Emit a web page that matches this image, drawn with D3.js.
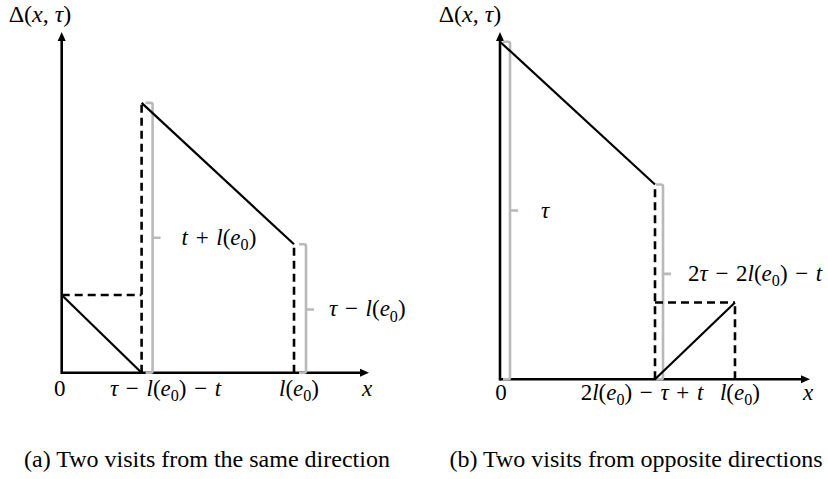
<!DOCTYPE html>
<html>
<head>
<meta charset="utf-8">
<script src="https://cdn.jsdelivr.net/npm/d3@7"></script>
<style>
  html, body { margin: 0; padding: 0; background: #fff; }
  svg { display: block; }
</style>
</head>
<body>
<svg id="chart" width="828" height="479"></svg>
<script>
// ---- Panel (a): two visits from the same direction ----
const aFirstVisit  = [[0, 22.8], [26, 0]];          // decreasing delay, first visit
const aSecondVisit = [[26, 79.2], [75.6, 37.7]];    // decreasing delay, second visit
const aDashed = [
  [[0, 22.8], [26, 22.8]],
  [[26, 0], [26, 79.2]],
  [[75.6, 0], [75.6, 37.7]]
];
const aBraces = [
  { x: 26, y0: 0, y1: 79.2, label: "t + l(e_0)" },
  { x: 75.6, y0: 0, y1: 37.7, label: "τ − l(e_0)" }
];
const aTickValues = [0, 26, 75.6, 100];
const aTickLabels = ["0", "τ − l(e_0) − t", "l(e_0)", "x"];

// ---- Panel (b): two visits from opposite directions ----
const bFirstVisit  = [[0, 97.2], [50, 56.1]];
const bSecondVisit = [[50, 0], [75.8, 22.1]];
const bDashed = [
  [[50, 0], [50, 56.1]],
  [[50, 22.1], [75.8, 22.1]],
  [[75.8, 0], [75.8, 22.1]]
];
const bBraces = [
  { x: 0, y0: 0, y1: 97.2, label: "τ" },
  { x: 50, y0: 0, y1: 56.1, label: "2τ − 2l(e_0) − t" }
];
const bTickValues = [0, 50, 75.8, 100];
const bTickLabels = ["0", "2l(e_0) − τ + t", "l(e_0)", "x"];

const yTitle = "Δ(x, τ)";
const captions = ["(a) Two visits from the same direction", "(b) Two visits from opposite directions"];

const svg = d3.select("#chart");
const MATH_FONT = "'Liberation Serif', 'Times New Roman', serif";
const GRAY = "#b9b9b9";

// Writes a small math string: letters italic, "_0" as subscript,
// spaces widened to the given character around operators.
function mathText(textSel, str, size, space) {
  textSel.attr("font-family", MATH_FONT).attr("font-size", size).attr("fill", "#000");
  if (space) str = str.replace(/ /g, space);
  const runs = [];
  for (let i = 0; i < str.length; i++) {
    const c = str[i];
    if (c === "_") { runs.push({ t: str[i + 1], sub: true, it: false }); i++; continue; }
    const it = /[a-zA-Zτ]/.test(c);
    const last = runs[runs.length - 1];
    if (last && !last.sub && last.it === it) last.t += c;
    else runs.push({ t: c, sub: false, it });
  }
  let shifted = 0;
  runs.forEach(r => {
    const ts = textSel.append("tspan").text(r.t)
      .attr("font-style", r.it ? "italic" : "normal");
    if (r.sub) {
      ts.attr("font-size", size * 0.7).attr("dy", size * 0.22);
      shifted = size * 0.22;
    } else if (shifted) {
      ts.attr("dy", -shifted);
      shifted = 0;
    }
  });
}

function drawPanel(cfg) {
  const g = svg.append("g");
  const sx = d3.scaleLinear().domain([0, 100]).range(cfg.xRange);
  const sy = d3.scaleLinear().domain([0, 100]).range(cfg.yRange);
  const line = d3.line().x(d => sx(d[0])).y(d => sy(d[1]));

  // axes with arrowheads
  const x0 = sx(0), y0 = sy(0), xEnd = sx(100), yEnd = sy(100);
  g.append("line").attr("x1", x0).attr("y1", y0).attr("x2", xEnd - 6).attr("y2", y0)
    .attr("stroke", "#000").attr("stroke-width", 2.6);
  g.append("line").attr("x1", x0).attr("y1", y0 + 1.3).attr("x2", x0).attr("y2", yEnd + 6)
    .attr("stroke", "#000").attr("stroke-width", 2.6);
  g.append("path").attr("d", `M${xEnd},${y0} L${xEnd - 9},${y0 - 4} L${xEnd - 9},${y0 + 4} Z`).attr("fill", "#000");
  g.append("path").attr("d", `M${x0},${yEnd} L${x0 - 4},${yEnd + 9} L${x0 + 4},${yEnd + 9} Z`).attr("fill", "#000");

  // gray braces
  cfg.braces.forEach((b, i) => {
    const bx = sx(b.x) + cfg.braceOffset[i];
    const top = sy(b.y1), bot = sy(b.y0), mid = (top + bot) / 2 + cfg.braceMidShift[i];
    g.append("path")
      .attr("d", `M${bx - 7},${top} L${bx - 2},${top} Q${bx},${top} ${bx},${top + 2} L${bx},${bot - 2} Q${bx},${bot} ${bx - 2},${bot} L${bx - 7},${bot} M${bx},${mid} L${bx + 8},${mid}`)
      .attr("fill", "none").attr("stroke", GRAY).attr("stroke-width", 2.6);
    const t = g.append("text").attr("x", bx + 8 + cfg.braceLabelGap[i]).attr("y", mid + 7);
    mathText(t, b.label, 23, "\u2004");
  });

  // dashed guides
  cfg.dashed.forEach(seg => {
    g.append("path").attr("d", line(seg)).attr("fill", "none")
      .attr("stroke", "#000").attr("stroke-width", 2.6).attr("stroke-dasharray", "8,5");
  });

  // solid delay segments
  [cfg.first, cfg.second].forEach(seg => {
    g.append("path").attr("d", line(seg)).attr("fill", "none")
      .attr("stroke", "#000").attr("stroke-width", 2.2);
  });

  // x-axis labels
  cfg.tickValues.forEach((v, i) => {
    const t = g.append("text").attr("x", sx(v) + cfg.tickDx[i]).attr("y", cfg.tickBaseline)
      .attr("text-anchor", "middle");
    mathText(t, cfg.tickLabels[i], 23, "\u2004");
  });

  // y-axis title
  const tt = g.append("text").attr("x", cfg.titleX).attr("y", 22).attr("text-anchor", "middle");
  mathText(tt, yTitle, 24, null);

  // caption
  g.append("text").attr("x", cfg.captionX).attr("y", 467).attr("text-anchor", "middle")
    .attr("font-family", "'Liberation Serif', serif").attr("font-size", 24)
    .text(cfg.caption);
}

drawPanel({
  xRange: [61.7, 369], yRange: [372.7, 32],
  first: aFirstVisit, second: aSecondVisit, dashed: aDashed, braces: aBraces,
  braceOffset: [11, 12], braceMidShift: [0, 1], braceLabelGap: [21, 15],
  tickValues: aTickValues, tickLabels: aTickLabels, tickDx: [-2, 24, 5, -2], tickBaseline: 396,
  titleX: 40, captionX: 207, caption: captions[0]
});

drawPanel({
  xRange: [500, 810], yRange: [379.3, 32],
  first: bFirstVisit, second: bSecondVisit, dashed: bDashed, braces: bBraces,
  braceOffset: [10, 8], braceMidShift: [0, -8], braceLabelGap: [23, 17],
  tickValues: bTickValues, tickLabels: bTickLabels, tickDx: [1, -13, 5, -2], tickBaseline: 400,
  titleX: 470, captionX: 636, caption: captions[1]
});
</script>
</body>
</html>
